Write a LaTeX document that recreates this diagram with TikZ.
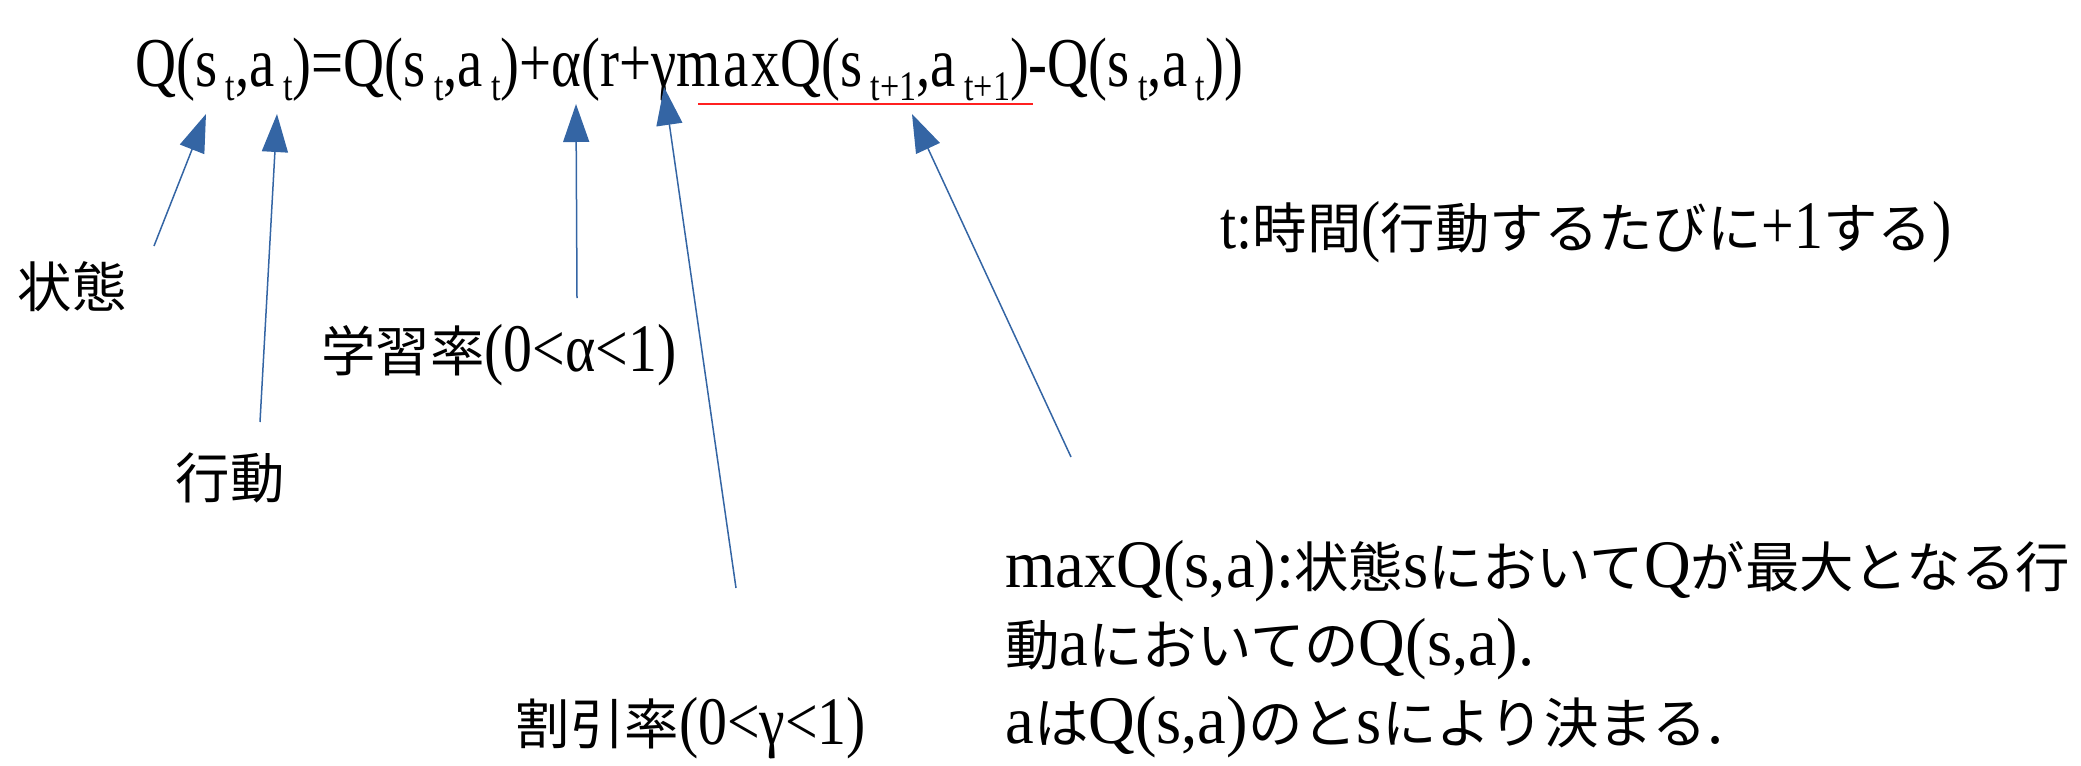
\documentclass[tikz,border=0pt]{standalone}
\usepackage{fontspec}
\setmainfont[FakeStretch=0.85]{Liberation Serif}
\newfontfamily\eqfont[FakeStretch=0.812]{Liberation Serif}
\newfontfamily\blockfont[FakeStretch=0.95]{Liberation Serif}
\newfontfamily\jpfont[Scale=0.8]{Noto Sans CJK JP}
\usetikzlibrary{arrows.meta}
\definecolor{pointerblue}{HTML}{3465A4}
\definecolor{markred}{HTML}{FF2020}
\newcommand{\jp}[1]{{\jpfont #1}}
\newcommand{\qsub}[1]{\hspace{0.12em}\raisebox{-0.2em}{\fontsize{21pt}{21pt}\selectfont #1}}

\begin{document}
\begin{tikzpicture}[x=0.5pt, y=-0.5pt,
    eqtext/.style={inner sep=0pt, font=\fontsize{35pt}{42pt}\eqfont},
    note/.style={inner sep=0pt, font=\fontsize{34pt}{39pt}\selectfont},
    pointer/.style={pointerblue, line width=0.75pt, -{Triangle[length=19pt, width=13pt]}}]
  \useasboundingbox (0,0) rectangle (2081,765);
  \node[eqtext, anchor=base west] (eq) at (135,87)
    {Q(s\qsub{t},a\qsub{t})=Q(s\qsub{t},a\qsub{t})+α(r+γm\hspace{0.04em}a\hspace{0.04em}xQ(s\qsub{t+1},a\qsub{t+1})-Q(s\qsub{t},a\qsub{t}))};
  \coordinate (maxL) at (698,104);
  \coordinate (maxR) at (1033,104);
  \draw[markred, line width=0.7pt] (maxL) -- (maxR);

  \node[note] (state) at (72,287) {\jp{状態}};
  \node[note] (action) at (230,478) {\jp{行動}};
  \node[note] (lrate) at (499,355) {\jp{学習率}(0<α<1)};
  \node[note] (discount) at (691,728) {\jp{割引率}(0<γ<1)};
  \node[note] (time) at (1586,232) {t:\jp{時間}(\jp{行動するたびに}+1\jp{する})};
  \node[note, font=\fontsize{34pt}{39pt}\blockfont, align=left, anchor=north west] (maxq) at (1005,540)
    {maxQ(s,a):\jp{状態}s\jp{において}Q\jp{が最大となる行}\\
     \jp{動}a\jp{においての}Q(s,a).\\
     a\jp{は}Q(s,a)\jp{の}\jp{と}s\jp{により決まる}.};

  \coordinate (stateEnd) at (154,246);
  \coordinate (stateTip) at (206,114);
  \coordinate (actionEnd) at (260,422);
  \coordinate (actionTip) at (277,114);
  \coordinate (lrateEnd) at (577,298);
  \coordinate (lrateTip) at (576,104);
  \coordinate (discountEnd) at (736,588);
  \coordinate (discountTip) at (664,87);
  \coordinate (maxqEnd) at (1071,457);
  \coordinate (maxqTip) at (912,114);
  \foreach \n in {state,action,lrate,discount,maxq}
    \draw[pointer] (\n End) -- (\n Tip);
\end{tikzpicture}
\end{document}
